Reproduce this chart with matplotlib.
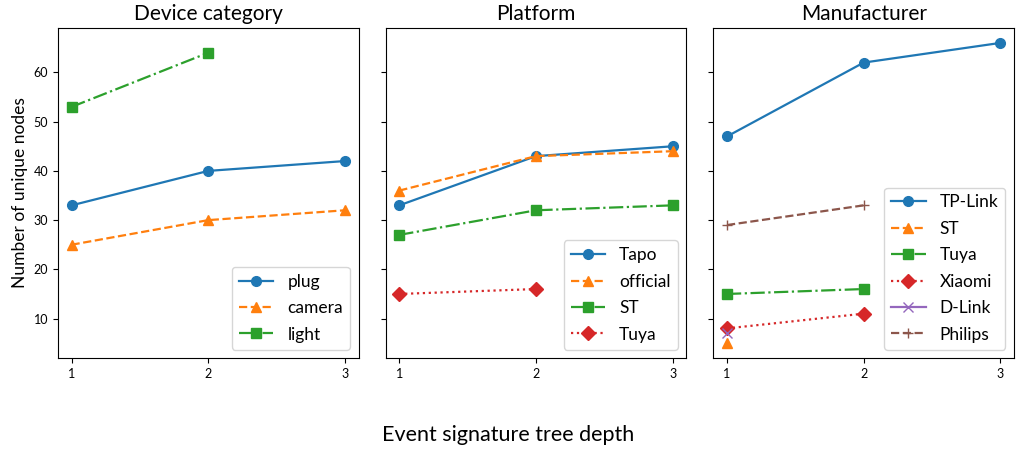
import matplotlib.pyplot as plt

plt.rcParams['font.family'] = ['Lato', 'DejaVu Sans']

depth = [1, 2, 3]

# Device category
plug = [33, 40, 42]
camera = [25, 30, 32]
light = [53, 64]

# Platform
tapo = [33, 43, 45]
official = [36, 43, 44]
plat_st = [27, 32, 33]
plat_tuya = [15, 16]

# Manufacturer
tplink = [47, 62, 66]
man_st = [5]
man_tuya = [15, 16]
xiaomi = [8, 11]
dlink = [7]
philips = [29, 33]

panels = [
    ("Device category", [("plug", plug), ("camera", camera), ("light", light)]),
    ("Platform", [("Tapo", tapo), ("official", official), ("ST", plat_st), ("Tuya", plat_tuya)]),
    ("Manufacturer", [("TP-Link", tplink), ("ST", man_st), ("Tuya", man_tuya),
                      ("Xiaomi", xiaomi), ("D-Link", dlink), ("Philips", philips)]),
]

markers = ['o', '^', 's', 'D', 'x', '+']
styles = ['-', '--', '-.', ':', '-', '--']
colors = ['tab:blue', 'tab:orange', 'tab:green', 'tab:red', 'tab:purple', 'tab:brown']

fig, axes = plt.subplots(1, 3, figsize=(10.16, 4.5), dpi=100, sharey=True)
fig.subplots_adjust(left=0.057, right=0.998, top=0.938, bottom=0.204, wspace=0.09)

for ax, (title, series) in zip(axes, panels):
    for i, (name, vals) in enumerate(series):
        ax.plot(depth[:len(vals)], vals, marker=markers[i], linestyle=styles[i],
                color=colors[i], markersize=7, linewidth=1.6, label=name)
    ax.set_title(title, fontsize=15)
    ax.set_xticks(depth)
    ax.tick_params(labelsize=9)
    ax.legend(loc='lower right', fontsize=12.5, labelspacing=0.6)

axes[0].set_yticks([10, 20, 30, 40, 50, 60])
axes[0].set_ylabel("Number of unique nodes", fontsize=12.5)
fig.text(0.5, 0.02, "Event signature tree depth", ha='center', fontsize=15.5)

plt.savefig("out.png", dpi=100)
